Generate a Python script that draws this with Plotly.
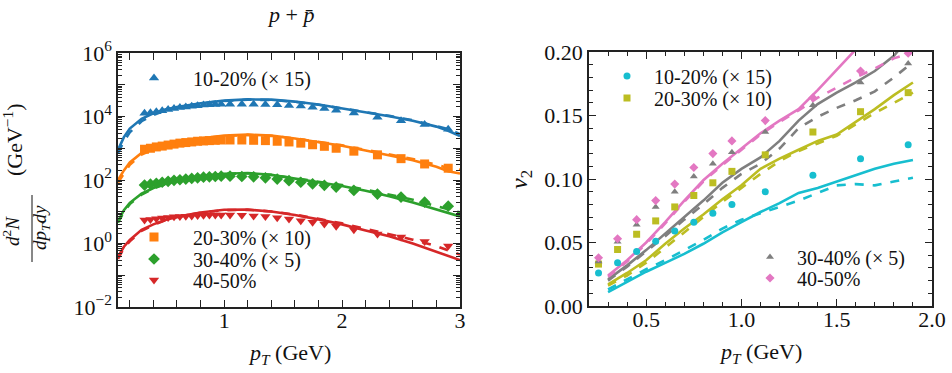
import plotly.graph_objects as go

# ---------------- left panel: spectra ----------------
pt_data = [0.325, 0.375, 0.425, 0.475, 0.525, 0.575, 0.625, 0.675, 0.725, 0.775,
           0.825, 0.875, 0.925, 0.975, 1.05, 1.15, 1.25, 1.35, 1.45, 1.55,
           1.65, 1.75, 1.85, 1.95, 2.1, 2.3, 2.5, 2.7, 2.9]
spec_c1020 = [12600, 13200, 14100, 15100, 16600, 17800, 19100, 20000, 20900, 21900,
              22900, 23400, 24000, 24500, 24500, 24500, 24500, 24000, 23400, 22400,
              21400, 19500, 17800, 15800, 12900, 9500, 7400, 5600, 4000]
spec_c2030 = [930, 1000, 1100, 1170, 1260, 1350, 1450, 1510, 1580, 1660,
              1700, 1740, 1780, 1820, 1820, 1820, 1780, 1740, 1660, 1580,
              1450, 1290, 1150, 1000, 810, 620, 470, 320, 235]
spec_c3040 = [69, 74, 79, 85, 91, 98, 102, 107, 112, 117,
              123, 126, 129, 132, 132, 129, 126, 117, 107, 95,
              85, 76, 68, 60, 47, 36, 29, 20, 15]
spec_c4050 = [5.5, 5.75, 6.0, 6.3, 6.6, 6.9, 7.1, 7.2, 7.4, 7.6,
              7.8, 7.9, 7.9, 7.9, 7.9, 7.8, 7.4, 7.1, 6.5, 5.9,
              5.2, 4.7, 4.1, 3.5, 2.7, 2.0, 1.6, 1.15, 0.83]

pt_model = [0.1, 0.15, 0.2, 0.3, 0.4, 0.5, 0.6, 0.8, 1.0, 1.2,
            1.4, 1.6, 1.8, 2.0, 2.2, 2.4, 2.6, 2.8, 2.9, 3.0]
m1020_solid = [890, 2240, 4170, 8500, 12600, 16600, 20000, 26300, 31600, 34700,
               33900, 29500, 24000, 18200, 13800, 10200, 7400, 4800, 3550, 2400]
m1020_dash = [710, 1660, 3160, 7100, 11200, 15500, 19100, 25700, 30900, 33900,
              33100, 28800, 23400, 18200, 14100, 10500, 7600, 5000, 4000, 2800]
m2030_solid = [100, 200, 355, 710, 1000, 1260, 1510, 2040, 2510, 2690,
               2510, 2040, 1580, 1200, 850, 600, 420, 260, 190, 160]
m2030_dash = [83, 166, 300, 630, 930, 1200, 1480, 2000, 2450, 2630,
              2450, 2040, 1580, 1230, 890, 650, 460, 300, 240, 210]
m3040_solid = [5.0, 11.2, 19.1, 37, 56, 76, 95, 132, 158, 166,
               145, 112, 85, 65, 46, 31, 19.5, 11.5, 8.9, 7.1]
m3040_dash = [4.5, 10, 17.4, 34.7, 54, 74, 93, 129, 155, 162,
              145, 115, 89, 69, 50, 35.5, 24, 15.1, 12, 9.5]
m4050_solid = [0.38, 0.79, 1.29, 2.7, 4.0, 5.5, 6.9, 9.5, 11.5, 11.7,
               10.2, 7.9, 5.75, 4.0, 2.57, 1.7, 1.0, 0.56, 0.42, 0.30]
m4050_dash = [0.33, 0.71, 1.17, 2.5, 3.8, 5.4, 6.8, 9.3, 11.2, 11.5,
              10.2, 8.1, 6.0, 4.3, 2.9, 2.0, 1.32, 0.83, 0.6, 0.45]

# ---------------- right panel: v2 ----------------
pt_v2 = [0.25, 0.35, 0.45, 0.55, 0.65, 0.75, 0.85, 0.95, 1.125, 1.375, 1.625, 1.875]
v2_c1020 = [0.026, 0.034, 0.043, 0.051, 0.059, 0.066, 0.073, 0.080, 0.090, 0.103, 0.116, 0.127]
v2_c2030 = [0.033, 0.0445, 0.0565, 0.067, 0.078, 0.087, 0.097, 0.106, 0.119, 0.137, 0.153, 0.168]
v2_c3040 = [0.035, 0.0505, 0.064, 0.078, 0.090, 0.102, 0.112, 0.121, 0.137, 0.158, 0.176, 0.191]
v2_c4050 = [0.038, 0.053, 0.068, 0.083, 0.096, 0.109, 0.120, 0.130, 0.146, 0.164, 0.185, 0.199]

pt_v2_model = [0.3, 0.4, 0.5, 0.6, 0.7, 0.8, 0.9, 1.0, 1.1, 1.2, 1.3, 1.4, 1.5, 1.6, 1.7, 1.8, 1.9]
v2m_1020_solid = [0.011, 0.019, 0.027, 0.034, 0.041, 0.049, 0.058, 0.066, 0.074, 0.081, 0.089, 0.093, 0.098, 0.103, 0.108, 0.112, 0.115]
v2m_1020_dash = [0.013, 0.021, 0.029, 0.036, 0.044, 0.052, 0.061, 0.068, 0.073, 0.078, 0.083, 0.089, 0.095, 0.096, 0.095, 0.098, 0.101]
v2m_2030_solid = [0.017, 0.026, 0.036, 0.049, 0.061, 0.072, 0.084, 0.095, 0.108, 0.116, 0.123, 0.130, 0.135, 0.145, 0.155, 0.166, 0.176]
v2m_2030_dash = [0.016, 0.024, 0.034, 0.046, 0.058, 0.070, 0.082, 0.093, 0.104, 0.114, 0.122, 0.128, 0.134, 0.143, 0.152, 0.160, 0.168]
v2m_3040_solid = [0.021, 0.032, 0.044, 0.057, 0.070, 0.083, 0.097, 0.108, 0.117, 0.130, 0.146, 0.159, 0.168, 0.176, 0.185, 0.197, 0.215]
v2m_3040_dash = [0.020, 0.031, 0.043, 0.055, 0.068, 0.080, 0.093, 0.104, 0.112, 0.124, 0.140, 0.149, 0.156, 0.162, 0.169, 0.180, 0.192]
v2m_4050_solid = [0.024, 0.036, 0.050, 0.066, 0.083, 0.099, 0.112, 0.124, 0.136, 0.146, 0.155, 0.170, 0.186, 0.202, 0.218, 0.230, 0.240]
v2m_4050_dash = [0.023, 0.035, 0.049, 0.065, 0.082, 0.098, 0.111, 0.123, 0.135, 0.145, 0.154, 0.164, 0.172, 0.180, 0.187, 0.195, 0.200]

labels = ["10-20% (× 15)", "20-30% (× 10)", "30-40% (× 5)", "40-50%"]
left_colors = ["#1f77b4", "#ff7f0e", "#2ca02c", "#d62728"]
right_colors = ["#17becf", "#bcbd22", "#7f7f7f", "#e377c2"]
left_symbols = ["triangle-up", "square", "diamond", "triangle-down"]
right_symbols = ["circle", "square", "triangle-up", "diamond"]

FONT = "Liberation Serif"
W, H = 952, 373
AX = "#222222"

def px_x(p):
    return p / W

def px_y(p):
    return 1 - p / H

fig = go.Figure()

left_data = [spec_c1020, spec_c2030, spec_c3040, spec_c4050]
left_solid = [m1020_solid, m2030_solid, m3040_solid, m4050_solid]
left_dash = [m1020_dash, m2030_dash, m3040_dash, m4050_dash]

for i in range(4):
    fig.add_trace(go.Scatter(x=pt_model, y=left_solid[i], mode="lines",
                             line=dict(color=left_colors[i], width=2.6),
                             showlegend=False, xaxis="x", yaxis="y"))
    fig.add_trace(go.Scatter(x=pt_model, y=left_dash[i], mode="lines",
                             line=dict(color=left_colors[i], width=2.6, dash="dash"),
                             showlegend=False, xaxis="x", yaxis="y"))
for i in range(4):
    fig.add_trace(go.Scatter(x=pt_data, y=left_data[i], mode="markers", name=labels[i],
                             marker=dict(color=left_colors[i], symbol=left_symbols[i], size=9),
                             legend="legend" if i == 0 else "legend%d" % (i + 1),
                             xaxis="x", yaxis="y"))

right_data = [v2_c1020, v2_c2030, v2_c3040, v2_c4050]
right_solid = [v2m_1020_solid, v2m_2030_solid, v2m_3040_solid, v2m_4050_solid]
right_dash = [v2m_1020_dash, v2m_2030_dash, v2m_3040_dash, v2m_4050_dash]

for i in range(4):
    fig.add_trace(go.Scatter(x=pt_v2_model, y=right_solid[i], mode="lines",
                             line=dict(color=right_colors[i], width=2.6),
                             showlegend=False, xaxis="x2", yaxis="y2"))
    fig.add_trace(go.Scatter(x=pt_v2_model, y=right_dash[i], mode="lines",
                             line=dict(color=right_colors[i], width=2.6, dash="dash"),
                             showlegend=False, xaxis="x2", yaxis="y2"))
for i in range(4):
    fig.add_trace(go.Scatter(x=pt_v2, y=right_data[i], mode="markers", name=labels[i],
                             marker=dict(color=right_colors[i], symbol=right_symbols[i], size=7),
                             legend="legend%d" % (i + 5), xaxis="x2", yaxis="y2"))

even_decades = [-2, 0, 2, 4, 6]
odd_decades = [-1, 1, 3, 5]
log_tickvals = [10.0 ** d for d in even_decades]
log_ticktext = ["10<sup>%s</sup>" % str(d).replace("-", "−") for d in even_decades]
log_oddvals = [10.0 ** d for d in odd_decades]
log_minor = [k * 10.0 ** d for d in range(-2, 6) for k in range(2, 10)]

common = dict(showline=True, linecolor=AX, linewidth=1.5, mirror="allticks",
              ticks="inside", ticklen=7, tickwidth=1.2, tickcolor=AX,
              showgrid=False, zeroline=False, automargin=False,
              tickfont=dict(family=FONT, size=22, color="#111"))

fig.update_layout(
    width=W, height=H, margin=dict(l=0, r=0, t=0, b=0, autoexpand=False),
    paper_bgcolor="white", plot_bgcolor="white",
    font=dict(family=FONT, color="#111"),
    xaxis=dict(domain=[px_x(118), px_x(460)], range=[0.1, 3.0], anchor="y",
               tickmode="array", tickvals=[1, 2, 3], ticktext=["1", "2", "3"],
               ticklabelstandoff=-7,
               minor=dict(ticks="inside", ticklen=4, tickcolor=AX, dtick=0.2, tick0=0),
               **common),
    yaxis=dict(domain=[px_y(307), px_y(53)], type="log", range=[-2, 6], anchor="x",
               tickmode="array", tickvals=log_tickvals, ticktext=log_ticktext,
               minor=dict(ticks="inside", ticklen=4, tickcolor=AX, tickvals=log_minor),
               **common),
    # odd decades: full-length ticks without labels
    yaxis3=dict(overlaying="y", type="log", range=[-2, 6], anchor="x", side="left",
                tickmode="array", tickvals=log_oddvals, showticklabels=False,
                ticks="inside", ticklen=7, tickwidth=1.2, tickcolor=AX, mirror="ticks",
                showline=False, showgrid=False, zeroline=False, automargin=False),
    xaxis2=dict(domain=[px_x(589), px_x(932)], range=[0.2, 2.0], anchor="y2",
                tickmode="array", tickvals=[0.5, 1.0, 1.5, 2.0], ticktext=["0.5", "1.0", "1.5", "2.0"],
                ticklabelstandoff=-7,
                minor=dict(ticks="inside", ticklen=4, tickcolor=AX, dtick=0.1, tick0=0),
                **common),
    yaxis2=dict(domain=[px_y(306), px_y(52)], range=[0, 0.2], anchor="x2",
                tickmode="array", tickvals=[0, 0.05, 0.1, 0.15, 0.2],
                ticktext=["0.00", "0.05", "0.10", "0.15", "0.20"],
                minor=dict(ticks="inside", ticklen=4, tickcolor=AX, dtick=0.01, tick0=0),
                **common),
)
# an invisible trace keeps the overlay axis drawn
fig.add_trace(go.Scatter(x=[pt_model[0]], y=[m1020_solid[0]], mode="markers",
                         marker=dict(opacity=0), showlegend=False, hoverinfo="skip",
                         xaxis="x", yaxis="y3"))

# one legend per entry so that the row spacing matches the reference
leg_common = dict(bgcolor="rgba(0,0,0,0)", borderwidth=0, xanchor="left", yanchor="middle",
                  font=dict(family=FONT, size=20, color="#111"))
legend_rows = [  # (legend x px, row centre y px, item width)
    (115, 78, 68), (115, 237, 68), (115, 259, 68), (115, 280, 68),
    (600, 76, 44), (600, 98, 44), (743, 257, 44), (743, 278, 44),
]
legend_layout = {}
for k, (lx, ly, iw) in enumerate(legend_rows):
    name = "legend" if k == 0 else "legend%d" % (k + 1)
    legend_layout[name] = dict(x=px_x(lx), y=px_y(ly), itemwidth=iw, **leg_common)
fig.update_layout(**legend_layout)

def ann(text, x, y, size=22, angle=0):
    return dict(text=text, x=px_x(x), y=px_y(y), xref="paper", yref="paper",
                xanchor="center", yanchor="middle", showarrow=False, textangle=angle,
                font=dict(family=FONT, size=size, color="#111"))

annotations = [
    ann("<i>p</i> + <i>p̄</i>", 290, 14),
    ann("<i>p</i><sub><i>T</i></sub> (GeV)", 289, 354),
    ann("<i>p</i><sub><i>T</i></sub> (GeV)", 760, 353),
    ann("<i>v</i><sub>2</sub>", 521, 180, 24, -90),
    ann("(GeV<sup>−1</sup>)", 13, 140, 22, -90),
    ann("<i>d</i><sup>2</sup><i>N</i>", 11, 231, 19, -90),
    ann("<i>dp</i><sub><i>T</i></sub><i>dy</i>", 41, 228, 19, -90),
]
fig.update_layout(annotations=annotations)
fig.add_shape(type="line", xref="paper", yref="paper",
              x0=px_x(32), x1=px_x(32), y0=px_y(195), y1=px_y(262),
              line=dict(color="#111", width=1))

fig.write_html("out.html")
